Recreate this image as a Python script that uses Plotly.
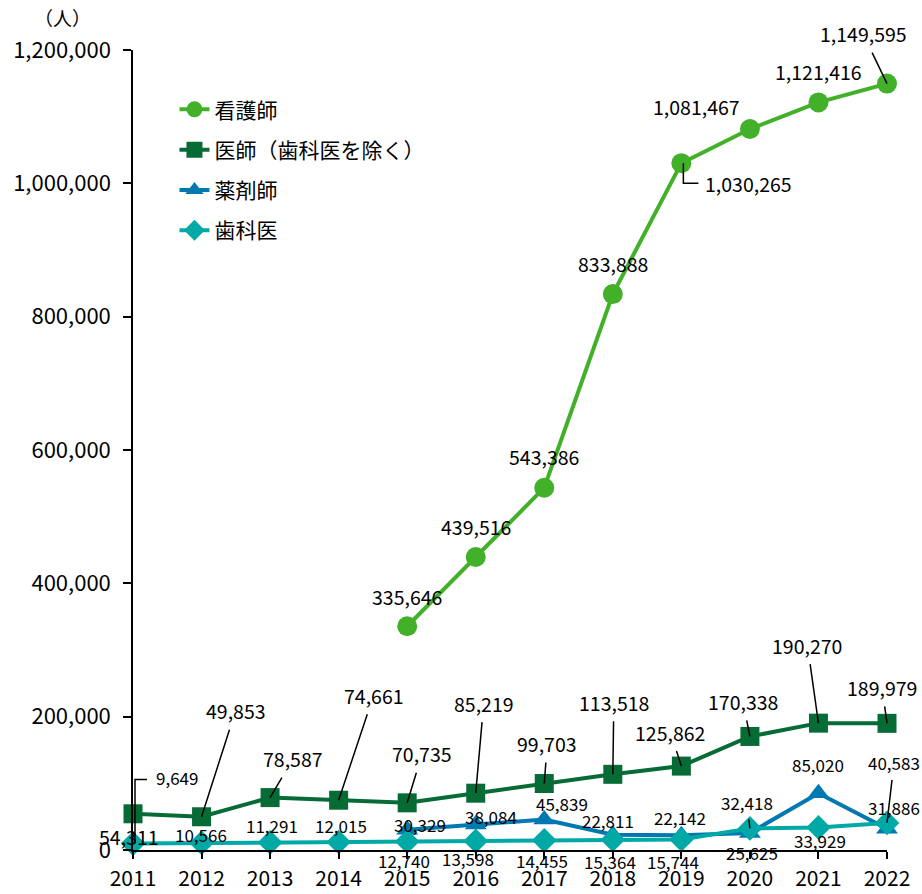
import plotly.graph_objects as go

# 年
years = [2011, 2012, 2013, 2014, 2015, 2016, 2017, 2018, 2019, 2020, 2021, 2022]

# 各職種の人数（人）
nurse = [None, None, None, None, 335646, 439516, 543386, 833888, 1030265, 1081467, 1121416, 1149595]
doctor = [54311, 49853, 78587, 74661, 70735, 85219, 99703, 113518, 125862, 170338, 190270, 189979]
pharmacist = [None, None, None, None, 30329, 38084, 45839, 22811, 22142, 25625, 85020, 31886]
dentist = [9649, 10566, 11291, 12015, 12740, 13598, 14455, 15364, 15744, 32418, 33929, 40583]

names = ["看護師", "医師（歯科医を除く）", "薬剤師", "歯科医"]
colors = ["#43B02A", "#076B36", "#0078B0", "#00A9A6"]
symbols = ["circle", "square", "triangle-up", "diamond"]
msizes = [20, 19, 19, 19]

# ラベル位置（px, 右・下が正）と引き出し線: 0=なし, 1=直線, 2=折れ線
nurse_lbl = [None, None, None, None, (0, -30, 0), (0, -30, 0), (0, -31, 0), (0, -31, 0),
             (67, 20, 2), (-53, -23, 0), (0, -31, 0), (-24, -50, 1)]
doctor_lbl = [(-4, 23, 0), (34, -106, 1), (23, -39, 1), (35, -105, 1), (15, -49, 1), (8, -90, 1),
              (3, -40, 1), (1, -72, 1), (-11, -34, 1), (-7, -35, 1), (-11, -78, 1), (-5, -36, 1)]
pharm_lbl = [None, None, None, None, (13, -5, 0), (15, -8, 0), (18, -16, 0), (-5, -14, 0),
             (-1, -18, 0), (2, 20, 0), (0, -29, 0), (7, -21, 0)]
dentist_lbl = [(44, -66, 2), (-1, -8, 0), (2, -17, 0), (2, -16, 0), (-3, 19, 0), (-8, 18, 0),
               (-2, 20, 0), (-3, 22, 0), (-8, 22, 0), (-3, -26, 1), (2, 13, 0), (7, -60, 1)]

series = [nurse, doctor, pharmacist, dentist]
labels = [nurse_lbl, doctor_lbl, pharm_lbl, dentist_lbl]
lbl_sizes = [19.5, 19.5, 17, 17]

FONT = "Noto Sans CJK JP"

fig = go.Figure()
for i, vals in enumerate(series):
    fig.add_trace(go.Scatter(
        x=years, y=vals, name=names[i], mode="lines+markers",
        line=dict(color=colors[i], width=4),
        marker=dict(symbol=symbols[i], size=msizes[i], color=colors[i]),
        legendgroup=str(i), cliponaxis=False,
    ))

annotations = []
shapes = []
for vals, lbls, fs in zip(series, labels, lbl_sizes):
    for yr, v, lb in zip(years, vals, lbls):
        if v is None or lb is None:
            continue
        dx, dy, lead = lb
        txt = f"{v:,}"
        if lead == 1:
            annotations.append(dict(
                x=yr, y=v, xref="x", yref="y", text=txt, showarrow=True,
                arrowhead=0, arrowwidth=1.5, arrowcolor="black", ax=dx, ay=dy,
                standoff=0, borderpad=4, font=dict(size=fs, color="black")))
        else:
            annotations.append(dict(
                x=yr, y=v, xref="x", yref="y", text=txt, showarrow=False,
                xanchor="center", yanchor="middle", xshift=dx, yshift=-dy,
                font=dict(size=fs, color="black")))
            if lead == 2:
                # 折れ線の引き出し線
                if dy < 0:
                    path = f"M2,0 V{-dy - 2} H{dx - 30}"
                else:
                    path = f"M2,0 V{-dy} H{dx - 50}"
                shapes.append(dict(
                    type="path", xref="x", yref="y", xsizemode="pixel", ysizemode="pixel",
                    xanchor=yr, yanchor=v, path=path,
                    line=dict(color="black", width=1.5)))

annotations.append(dict(
    x=-0.094, y=1.04, xref="paper", yref="paper", text="（人）", showarrow=False,
    xanchor="center", yanchor="middle", font=dict(size=19, color="black")))

fig.update_layout(
    width=922, height=894,
    margin=dict(l=133, r=35, t=50, b=44, autoexpand=False),
    paper_bgcolor="white", plot_bgcolor="white",
    font=dict(family=FONT, color="black"),
    annotations=annotations, shapes=shapes,
    legend=dict(x=0.055, y=0.951, xanchor="left", yanchor="top",
                font=dict(size=21), tracegroupgap=10, bgcolor="rgba(0,0,0,0)"),
    showlegend=True,
)
fig.update_xaxes(
    range=[2011, 2022], tickmode="array", tickvals=years, ticktext=[str(y) for y in years],
    showline=True, linecolor="black", linewidth=1.5, ticks="outside", ticklen=7,
    tickcolor="black", tickwidth=1.5, showgrid=False, zeroline=False,
    tickfont=dict(size=21), ticklabelstandoff=2, automargin=False,
)
fig.update_yaxes(
    range=[0, 1200000], dtick=200000, tickformat=",",
    showline=True, linecolor="black", linewidth=1.5, ticks="outside", ticklen=8,
    tickcolor="black", tickwidth=1.5, showgrid=False, zeroline=False,
    tickfont=dict(size=22), ticklabelstandoff=8, automargin=False,
)

# ページ余白をなくしてウィンドウにぴったり収める
fig.write_html(
    "out.html",
    config={"displayModeBar": False},
    post_script="document.body.style.margin='0';document.body.style.overflow='hidden';",
)
